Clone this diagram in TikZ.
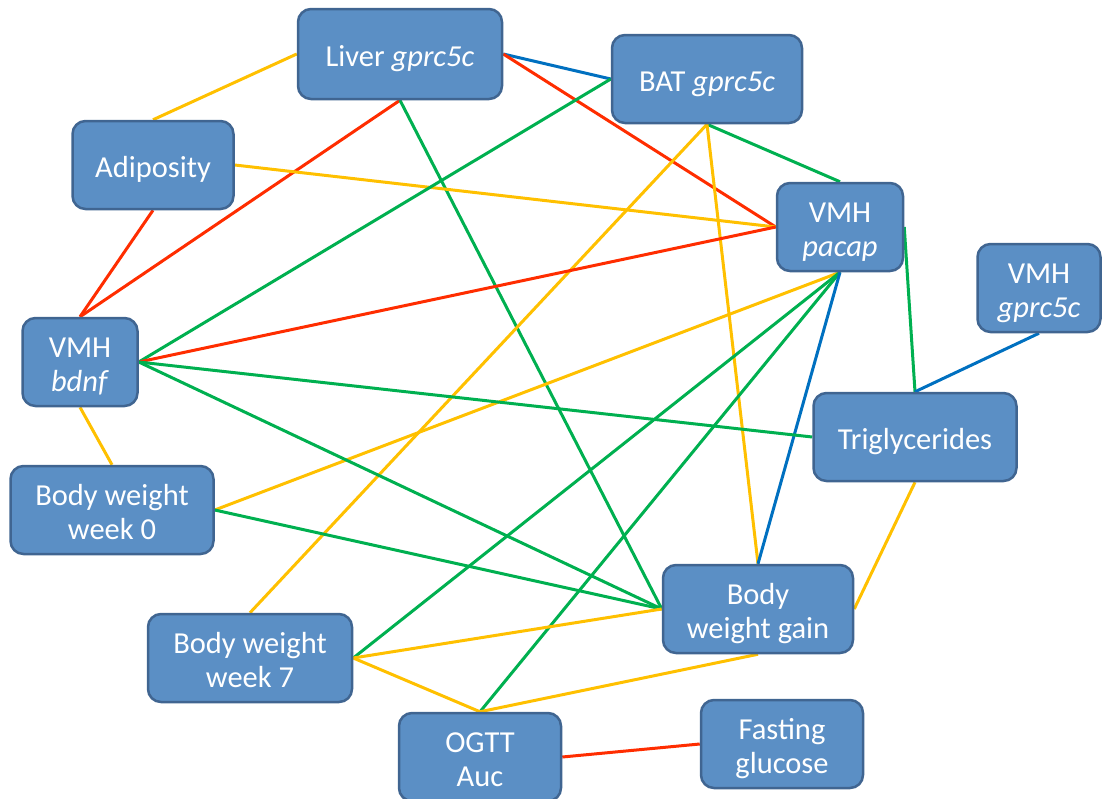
\documentclass[tikz,border=0pt]{standalone}
\usepackage{fontspec}
\setmainfont{Carlito}
\usetikzlibrary{backgrounds}
\definecolor{boxfill}{RGB}{91,143,197}
\definecolor{boxline}{RGB}{64,101,145}
\definecolor{cY}{RGB}{255,192,0}
\definecolor{cR}{RGB}{255,45,0}
\definecolor{cG}{RGB}{0,176,80}
\definecolor{cB}{RGB}{0,112,192}
\newcommand{\mytop}{\rule{0pt}{33pt}}
\newcommand{\mybot}{\rule[-8pt]{0pt}{8pt}}
\begin{document}
\begin{tikzpicture}[x=1pt,y=-1pt,
  box/.style={draw=boxline, line width=2.5pt, fill=boxfill, rounded corners=13pt,
    text=white, font=\fontsize{30.5}{34.5}\selectfont, align=center, inner sep=0pt,
    minimum height=88pt},
  link/.style={line width=3pt},
  ylink/.style={link, draw=cY},
  rlink/.style={link, draw=cR},
  glink/.style={link, draw=cG},
  blink/.style={link, draw=cB}]
\useasboundingbox (0,0) rectangle (1102,798);

\node[box, minimum width=204pt, minimum height=90pt] (liver) at (400,54) {\mytop Liver \textit{gprc5c}\mybot};
\node[box, minimum width=190pt] (bat) at (707,79) {\mytop BAT \textit{gprc5c}\mybot};
\node[box, minimum width=161pt] (adip) at (153,165) {\mytop Adiposity\mybot};
\node[box, minimum width=126pt] (pacap) at (840,227) {\mytop VMH\\\textit{pacap}\mybot};
\node[box, minimum width=123pt] (vgprc) at (1039,288) {\mytop VMH\\\textit{gprc5c}\mybot};
\node[box, minimum width=115pt] (bdnf) at (80,362) {\mytop VMH\\\textit{bdnf}\mybot};
\node[box, minimum width=203pt] (trig) at (915,437) {\mytop Triglycerides\mybot};
\node[box, minimum width=203pt] (w0) at (112,510) {\mytop Body weight\\week 0\mybot};
\node[box, minimum width=190pt] (gain) at (758,609) {\mytop Body\\weight gain\mybot};
\node[box, minimum width=204pt] (w7) at (250,658) {\mytop Body weight\\week 7\mybot};
\node[box, minimum width=162pt] (ogtt) at (480,757) {\mytop OGTT\\Auc\mybot};
\node[box, minimum width=162pt] (fast) at (782,744) {\mytop Fasting\\glucose\mybot};

\begin{scope}[on background layer]
\draw[ylink] (liver.west) -- (adip.north);
\draw[blink] (liver.east) -- (bat.west);
\draw[rlink] (liver.east) -- (pacap.west);
\draw[rlink] (liver.south) -- (bdnf.north);
\draw[glink] (liver.south) -- (gain.west);
\draw[ylink] (adip.east) -- (pacap.west);
\draw[rlink] (adip.south) -- (bdnf.north);
\draw[glink] (bat.west) -- (bdnf.east);
\draw[glink] (bat.south) -- (pacap.north);
\draw[ylink] (bat.south) -- (w7.north);
\draw[ylink] (bat.south) -- (gain.north);
\draw[rlink] (pacap.west) -- (bdnf.east);
\draw[ylink] (pacap.south) -- (w0.east);
\draw[glink] (pacap.south) -- (w7.east);
\draw[glink] (pacap.south) -- (ogtt.north);
\draw[blink] (pacap.south) -- (gain.north);
\draw[glink] (pacap.east) -- (trig.north);
\draw[blink] (vgprc.south) -- (trig.north);
\draw[glink] (bdnf.east) -- (trig.west);
\draw[glink] (bdnf.east) -- (gain.west);
\draw[ylink] (bdnf.south) -- (w0.north);
\draw[glink] (w0.east) -- (gain.west);
\draw[ylink] (trig.south) -- (gain.east);
\draw[ylink] (w7.east) -- (gain.west);
\draw[ylink] (w7.east) -- (ogtt.north);
\draw[ylink] (ogtt.north) -- (gain.south);
\draw[rlink] (ogtt.east) -- (fast.west);
\end{scope}
\end{tikzpicture}
\end{document}
